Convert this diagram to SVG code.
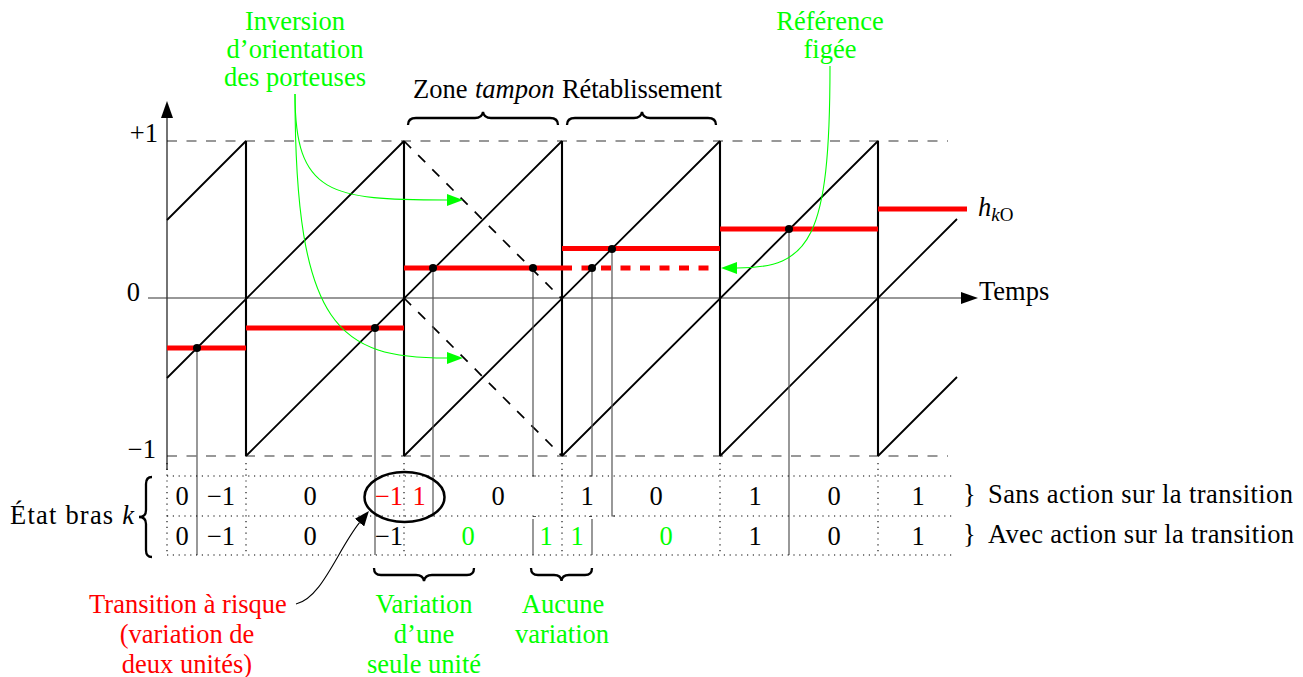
<svg xmlns="http://www.w3.org/2000/svg" width="1303" height="677" viewBox="0 0 1303 677">
<style>
.t{font-family:"Liberation Serif","Times New Roman",serif;font-size:26.5px;fill:#000}
.it{font-style:italic}
.g{fill:#00ff00}
.r{fill:#ff0000}
.saw{stroke:#000;stroke-width:1.8;fill:none}
.drop{stroke:#000;stroke-width:2.1;fill:none}
.lvl{stroke:#ff0000;stroke-width:5;fill:none}
.gray{stroke:#555;stroke-width:1.2;fill:none}
.dotted{stroke:#000;stroke-width:1.1;stroke-dasharray:1.2 4.6;fill:none}
.dash{stroke:#333;stroke-width:1.2;stroke-dasharray:10 9.5;fill:none}
.bdash{stroke:#000;stroke-width:1.7;stroke-dasharray:10 10;fill:none}
.brace{fill:none;stroke:#000;stroke-width:2.3}
.gc{fill:none;stroke:#00ff00;stroke-width:1.1}
</style>
<defs>
<marker id="ag" markerUnits="userSpaceOnUse" viewBox="0 0 16 12" refX="0" refY="6" markerWidth="16" markerHeight="12" orient="auto"><path d="M0,0 L16,6 L0,12 z" fill="#00ff00"/></marker>
<marker id="ab" markerUnits="userSpaceOnUse" viewBox="0 0 15 12" refX="0" refY="6" markerWidth="15" markerHeight="12" orient="auto"><path d="M0,0 L15,6 L0,12 z" fill="#000"/></marker>
<marker id="ax" markerUnits="userSpaceOnUse" viewBox="0 0 17 12" refX="0" refY="6" markerWidth="17" markerHeight="12" orient="auto"><path d="M0,0 L17,6 L0,12 z" fill="#000"/></marker>
</defs>
<rect width="1303" height="677" fill="#fff"/>

<g id="axes">
<path class="dash" d="M167,141 H948 M167,456 H948"/>
<path d="M167,470 V118" stroke="#000" stroke-width="1.1" marker-end="url(#ax)"/>
<path d="M148,298 H961" stroke="#333" stroke-width="1.1" marker-end="url(#ax)"/>
<text class="t" x="158" y="142" text-anchor="end">+1</text>
<text class="t" x="140" y="301" text-anchor="end">0</text>
<text class="t" x="156" y="458" text-anchor="end">−1</text>
<text class="t" x="979" y="300">Temps</text>
</g>

<g id="carriers">
<path class="saw" d="M167,220 L246,141 M246,456 L562,141 M562,456 L878,141 M878,456 L957,377"/>
<path class="saw" d="M167,378 L404,141 M404,456 L720,141 M720,456 L957,219"/>
<path class="drop" d="M246,141 V456 M404,141 V456 M562,141 V456 M720,141 V456 M878,141 V456"/>
<path class="bdash" d="M404,141 L562,299 M404,298 L562,456"/>
</g>

<g id="levels">
<path class="lvl" d="M167,348 H246 M246,328 H404 M404,268 H562 M562,248.5 H720 M720,229 H878 M878,209 H967"/>
<path class="lvl" d="M562,268 H712" stroke-dasharray="10 9.5"/>
<text class="t it" x="978" y="216">h<tspan font-size="19" dy="5">k</tspan><tspan font-size="19" font-style="normal">O</tspan></text>
</g>

<g id="samples">
<path class="gray" d="M197,348 V555 M375,328 V555 M433,268 V516 h-3 M533,268 V476 h3 M533,519 V555 M533,516.5 h3 M592,268 V476 h-3 M592,519 V555 M592,516.5 h-3 M612,249 V516 h3 M789,229 V555"/>
<circle cx="197" cy="348" r="4"/>
<circle cx="375" cy="328" r="4"/>
<circle cx="433" cy="268" r="4"/>
<circle cx="533" cy="268" r="4"/>
<circle cx="592" cy="268" r="4"/>
<circle cx="612" cy="249" r="4"/>
<circle cx="789" cy="229" r="4"/>
</g>

<g id="table">
<path class="dotted" d="M167,476 H955 M167,516 H955 M167,555 H955"/>
<path class="dotted" d="M167,463 V555 M246,463 V555 M404,463 V555 M562,463 V555 M720,463 V555 M878,463 V555"/>
<g class="t" text-anchor="middle">
<text x="182" y="505">0</text><text x="221" y="505">−1</text><text x="310" y="505">0</text>
<text class="r" x="389" y="505">−1</text><text class="r" x="419" y="505">1</text>
<text x="498" y="505">0</text><text x="587" y="505">1</text><text x="656" y="505">0</text>
<text x="755" y="505">1</text><text x="834" y="505">0</text><text x="918" y="505">1</text>
<text x="182" y="545">0</text><text x="221" y="545">−1</text><text x="310" y="545">0</text>
<text x="389" y="545">−1</text><text class="g" x="468" y="545">0</text>
<text class="g" x="546" y="545">1</text><text class="g" x="577" y="545">1</text>
<text class="g" x="666" y="545">0</text>
<text x="755" y="545">1</text><text x="834" y="545">0</text><text x="918" y="545">1</text>
</g>
<ellipse cx="404.5" cy="497" rx="40" ry="25" fill="none" stroke="#000" stroke-width="2.5"/>
<path class="brace" d="M152,477 Q146,477 146,484 L146,510 Q146,517 139,517 Q146,517 146,524 L146,550 Q146,557 152,557"/>
<text class="t" x="10" y="524" textLength="124" lengthAdjust="spacing">État bras <tspan font-style="italic">k</tspan></text>
<text class="t" x="963" y="503">}</text>
<text class="t" x="988" y="503" textLength="305" lengthAdjust="spacing">Sans action sur la transition</text>
<text class="t" x="963" y="543">}</text>
<text class="t" x="988" y="543" textLength="306" lengthAdjust="spacing">Avec action sur la transition</text>
</g>

<g id="zones">
<path class="brace" d="M408,125 Q408,118 416,118 L475,118 Q482,118 483,112 Q484,118 491,118 L550,118 Q558,118 558,125"/>
<path class="brace" d="M567,125 Q567,118 575,118 L634,118 Q641,118 642,112 Q643,118 650,118 L708,118 Q716,118 716,125"/>
<text class="t" x="413" y="98">Zone</text>
<text class="t it" x="475" y="98">tampon</text>
<text class="t" x="562" y="98" textLength="160" lengthAdjust="spacing">Rétablissement</text>
</g>

<g id="label-inversion">
<text class="t g" x="295" y="30" text-anchor="middle">Inversion</text>
<text class="t g" x="295" y="58" text-anchor="middle">d’orientation</text>
<text class="t g" x="295" y="86" text-anchor="middle">des porteuses</text>
</g>

<g id="label-reference">
<text class="t g" x="830" y="30" text-anchor="middle">Référence</text>
<text class="t g" x="830" y="58" text-anchor="middle">figée</text>
</g>

<g id="label-risque">
<text class="t r" x="188" y="613" text-anchor="middle">Transition à risque</text>
<text class="t r" x="187" y="643" text-anchor="middle">(variation de</text>
<text class="t r" x="187" y="673" text-anchor="middle">deux unités)</text>
</g>

<g id="label-variation">
<path class="brace" d="M374,568 Q374,575 381,575 L416,575 Q423,575 424,581 Q425,575 432,575 L467,575 Q474,575 474,568"/>
<text class="t g" x="424" y="613" text-anchor="middle">Variation</text>
<text class="t g" x="424" y="643" text-anchor="middle">d’une</text>
<text class="t g" x="424" y="673" text-anchor="middle">seule unité</text>
</g>

<g id="label-aucune">
<path class="brace" d="M531,568 Q531,575 538,575 L554,575 Q561,575 561.5,581 Q562,575 569,575 L585,575 Q592,575 592,568"/>
<text class="t g" x="563" y="613" text-anchor="middle">Aucune</text>
<text class="t g" x="562" y="643" text-anchor="middle">variation</text>
</g>

<g id="connectors">
<path class="gc" d="M295,94 C295,195 330,200 447,200" marker-end="url(#ag)"/>
<path class="gc" d="M295,94 C295,330 340,358 447,358" marker-end="url(#ag)"/>
<path class="gc" d="M830,66 C830,240 810,268 737,268" marker-end="url(#ag)"/>
<path d="M296,604 C322,598 337.5,550 359.5,522.7" fill="none" stroke="#000" stroke-width="1.1" marker-end="url(#ab)"/>
</g>
</svg>
